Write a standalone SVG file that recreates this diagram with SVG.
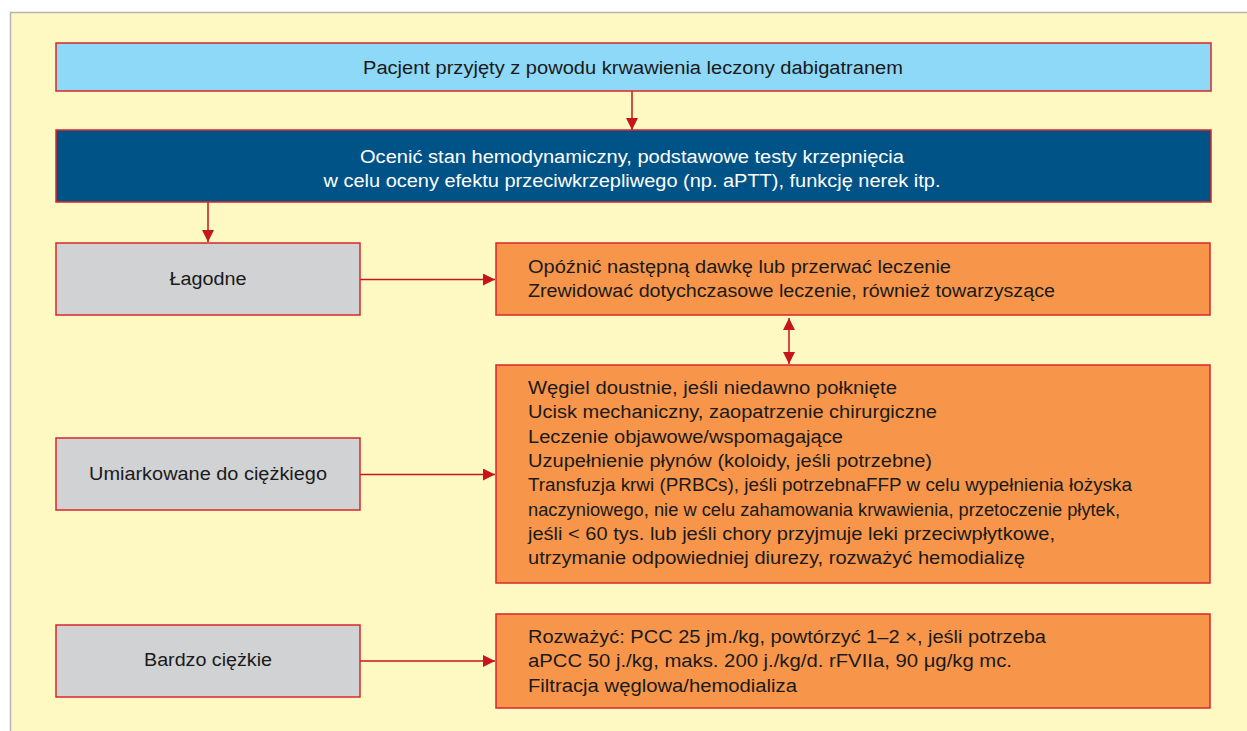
<svg xmlns="http://www.w3.org/2000/svg" width="1247" height="731" viewBox="0 0 1247 731">
<style>
text{font-family:"Liberation Sans","Arial",sans-serif;font-size:18px;fill:#1a1a1a}
.w{fill:#ffffff}
.box{stroke:#D9262C;stroke-width:1.5}
.lb{fill:#8ED8F8}
.db{fill:#005387}
.gr{fill:#D1D2D4}
.or{fill:#F7964A}
.c{text-anchor:middle}
.con{stroke:#C4161C;stroke-width:1.5;fill:none}
</style>
<defs>
<marker id="ah" markerWidth="12" markerHeight="12" refX="12" refY="6" orient="auto-start-reverse" markerUnits="userSpaceOnUse">
<path d="M0,0 L12,6 L0,12 Z" fill="#C4161C"/>
</marker>
</defs>
<rect x="0" y="0" width="1247" height="731" fill="#ffffff"/>
<rect x="10.5" y="12.5" width="1250" height="730" fill="#FEF8C3" stroke="#B4B4B4" stroke-width="1.5"/>
<g id="connectors">
<line class="con" x1="632" y1="91" x2="632" y2="130" marker-end="url(#ah)"/>
<line class="con" x1="208" y1="202" x2="208" y2="242" marker-end="url(#ah)"/>
<line class="con" x1="360" y1="279.5" x2="495" y2="279.5" marker-end="url(#ah)"/>
<line class="con" x1="360" y1="474.5" x2="495" y2="474.5" marker-end="url(#ah)"/>
<line class="con" x1="360" y1="661" x2="495" y2="661" marker-end="url(#ah)"/>
<line class="con" x1="789" y1="318" x2="789" y2="364" marker-start="url(#ah)" marker-end="url(#ah)"/>
</g>
<g id="n1">
<rect class="box lb" x="56" y="43" width="1155" height="48"/>
<text class="c" x="633" y="74" textLength="540" lengthAdjust="spacingAndGlyphs">Pacjent przyjęty z powodu krwawienia leczony dabigatranem</text>
</g>
<g id="n2">
<rect class="box db" x="56" y="130" width="1155" height="72"/>
<text class="c w" x="632" y="163" textLength="544" lengthAdjust="spacingAndGlyphs">Ocenić stan hemodynamiczny, podstawowe testy krzepnięcia</text>
<text class="c w" x="632" y="187" textLength="617" lengthAdjust="spacingAndGlyphs">w celu oceny efektu przeciwkrzepliwego (np. aPTT), funkcję nerek itp.</text>
</g>
<g id="n3">
<rect class="box gr" x="56" y="243" width="304" height="72"/>
<text class="c" x="208" y="285" textLength="77" lengthAdjust="spacingAndGlyphs">Łagodne</text>
</g>
<g id="n4">
<rect class="box gr" x="56" y="438" width="304" height="72"/>
<text class="c" x="208" y="480" textLength="238" lengthAdjust="spacingAndGlyphs">Umiarkowane do ciężkiego</text>
</g>
<g id="n5">
<rect class="box gr" x="56" y="625" width="304" height="72"/>
<text class="c" x="208" y="666" textLength="128" lengthAdjust="spacingAndGlyphs">Bardzo ciężkie</text>
</g>
<g id="n6">
<rect class="box or" x="496" y="243" width="714" height="72"/>
<text x="528" y="273" textLength="423" lengthAdjust="spacingAndGlyphs">Opóźnić następną dawkę lub przerwać leczenie</text>
<text x="528" y="297" textLength="527" lengthAdjust="spacingAndGlyphs">Zrewidować dotychczasowe leczenie, również towarzyszące</text>
</g>
<g id="n7">
<rect class="box or" x="496" y="365" width="714" height="218"/>
<text x="528" y="394" textLength="369" lengthAdjust="spacingAndGlyphs">Węgiel doustnie, jeśli niedawno połknięte</text>
<text x="528" y="418" textLength="409" lengthAdjust="spacingAndGlyphs">Ucisk mechaniczny, zaopatrzenie chirurgiczne</text>
<text x="528" y="443" textLength="315" lengthAdjust="spacingAndGlyphs">Leczenie objawowe/wspomagające</text>
<text x="528" y="467" textLength="404" lengthAdjust="spacingAndGlyphs">Uzupełnienie płynów (koloidy, jeśli potrzebne)</text>
<text x="528" y="491" textLength="604" lengthAdjust="spacingAndGlyphs">Transfuzja krwi (PRBCs), jeśli potrzebnaFFP w celu wypełnienia łożyska</text>
<text x="528" y="516" textLength="592" lengthAdjust="spacingAndGlyphs">naczyniowego, nie w celu zahamowania krwawienia, przetoczenie płytek,</text>
<text x="528" y="540" textLength="527" lengthAdjust="spacingAndGlyphs">jeśli &lt; 60 tys. lub jeśli chory przyjmuje leki przeciwpłytkowe,</text>
<text x="528" y="564" textLength="497" lengthAdjust="spacingAndGlyphs">utrzymanie odpowiedniej diurezy, rozważyć hemodializę</text>
</g>
<g id="n8">
<rect class="box or" x="496" y="614" width="714" height="94"/>
<text x="528" y="643" textLength="518" lengthAdjust="spacingAndGlyphs">Rozważyć: PCC 25 jm./kg, powtórzyć 1–2 ×, jeśli potrzeba</text>
<text x="528" y="667" textLength="484" lengthAdjust="spacingAndGlyphs">aPCC 50 j./kg, maks. 200 j./kg/d. rFVIIa, 90 μg/kg mc.</text>
<text x="528" y="692" textLength="269" lengthAdjust="spacingAndGlyphs">Filtracja węglowa/hemodializa</text>
</g>
</svg>
